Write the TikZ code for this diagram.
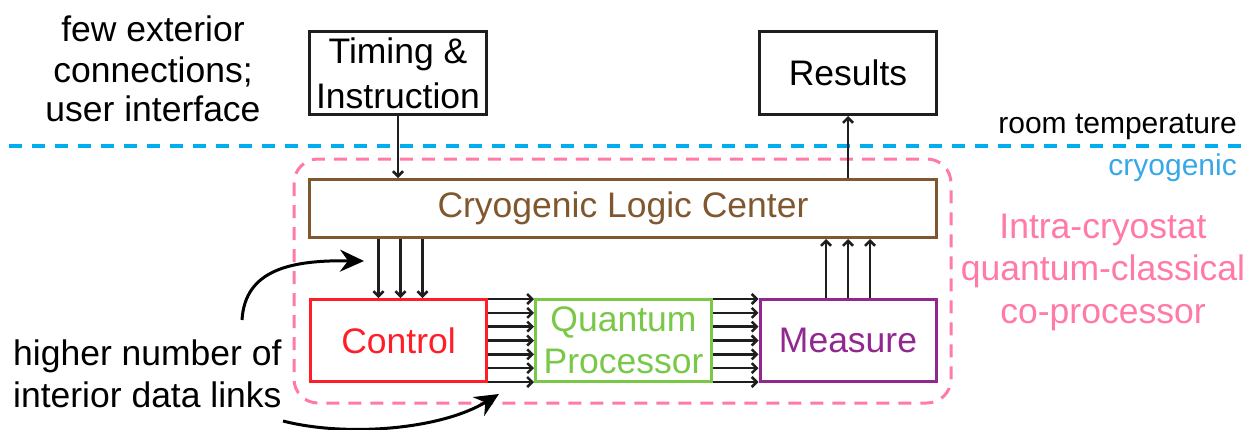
\documentclass[tikz,border=0pt]{standalone}
\usepackage{fontspec}
\setmainfont{Liberation Sans}
\usetikzlibrary{arrows.meta,calc}
\definecolor{cbrown}{RGB}{128,88,48}
\definecolor{cred}{RGB}{255,30,40}
\definecolor{cgreen}{RGB}{122,200,72}
\definecolor{cpurple}{RGB}{146,39,143}
\definecolor{cpink}{RGB}{255,122,165}
\definecolor{cblue}{RGB}{0,174,239}
\definecolor{ctxtblue}{RGB}{55,168,232}
\definecolor{cblack}{RGB}{30,30,30}
\begin{document}
\begin{tikzpicture}[x=1pt,y=-1pt,
  font=\fontsize{35.5}{42}\selectfont,
  box/.style={draw=cblack, line width=3pt, rectangle, inner sep=0pt, align=center,
    minimum width=177pt, minimum height=83pt},
  arr/.style={draw=cblack, line width=2.5pt, -{Straight Barb[length=5pt,width=10pt]}},
  big/.style={draw=black, line width=3pt, -{Stealth[length=24pt,width=22pt,inset=8pt]}},
  lbl/.style={inner sep=0pt, anchor=base},
]
\useasboundingbox (0,0) rectangle (1251,429);

% boundary and region
\coordinate (bl) at (9,146);
\coordinate (br) at (1251,146);
\draw[cblue, line width=3.5pt, dash pattern=on 13pt off 10pt] (bl) -- (br);
\draw[cpink, line width=3pt, dash pattern=on 13pt off 9pt, rounded corners=24pt]
  (294,159) rectangle (951,403);

% boxes
\node[box, minimum width=177pt, minimum height=83pt] (timing) at (398,73) {Timing \&\\[3pt]Instruction};
\node[box, minimum width=177pt, minimum height=83pt] (results) at (848,73) {Results};
\node[box, draw=cbrown, text=cbrown, minimum width=627pt, minimum height=58pt] (clc) at (623,208.5) {Cryogenic Logic Center};
\node[box, draw=cred, text=cred, minimum width=176pt, minimum height=82pt] (ctrl) at (398.5,340.5) {Control};
\node[box, draw=cgreen, text=cgreen, minimum width=176pt, minimum height=82pt] (qp) at (623.5,340.5) {Quantum\\Processor};
\node[box, draw=cpurple, text=cpurple, minimum width=176pt, minimum height=82pt] (meas) at (848,340.5) {Measure};

% connectors
\draw[arr] (timing.south) -- (timing.south |- clc.north);
\draw[arr] (results.south |- clc.north) -- (results.south);
\foreach \dx [count=\k] in {-20,2,24}{
  \coordinate (v\k) at ([xshift=\dx pt]ctrl.north);
  \draw[arr] (v\k |- clc.south) -- (v\k);
}
\foreach \dx [count=\k] in {-22,0,22}{
  \coordinate (m\k) at ([xshift=\dx pt]meas.north);
  \draw[arr] (m\k) -- (m\k |- clc.south);
}
\foreach \i in {0,...,6}{
  \coordinate (h\i) at ($([yshift=-1pt]ctrl.north east)!\i/6!([yshift=1pt]ctrl.south east)$);
  \draw[arr] (h\i) -- (h\i -| qp.west);
  \coordinate (g\i) at ($([yshift=-1pt]qp.north east)!\i/6!([yshift=1pt]qp.south east)$);
  \draw[arr] (g\i) -- (g\i -| meas.west);
}

% curved pointers
\coordinate (c1s) at (242,320);
\coordinate (c1e) at (364,261);
\draw[big] (c1s) .. controls (245,270) and (290,260) .. (c1e);
\coordinate (c2s) at (283,421);
\coordinate (c2e) at (499,394);
\draw[big] (c2s) .. controls (345,437) and (440,430) .. (c2e);

% texts
\node[lbl] (t1) at (153,41) {few exterior};
\node[lbl] (t2) at (153,82) {connections;};
\node[lbl] (t3) at (153,121) {user interface};
\node[lbl, anchor=base west] (t4) at (13,365) {higher number of};
\node[lbl, anchor=base west] (t5) at (13,407) {interior data links};
\node[lbl, anchor=base east, font=\fontsize{30}{36}\selectfont] (rt) at (1237,133) {room temperature};
\node[lbl, anchor=base east, font=\fontsize{30}{36}\selectfont, text=ctxtblue] (cg) at (1237,175) {cryogenic};
\node[lbl, text=cpink] (p1) at (1103,238) {Intra-cryostat};
\node[lbl, text=cpink] (p2) at (1103,280) {quantum-classical};
\node[lbl, text=cpink] (p3) at (1103,323) {co-processor};
\end{tikzpicture}
\end{document}
